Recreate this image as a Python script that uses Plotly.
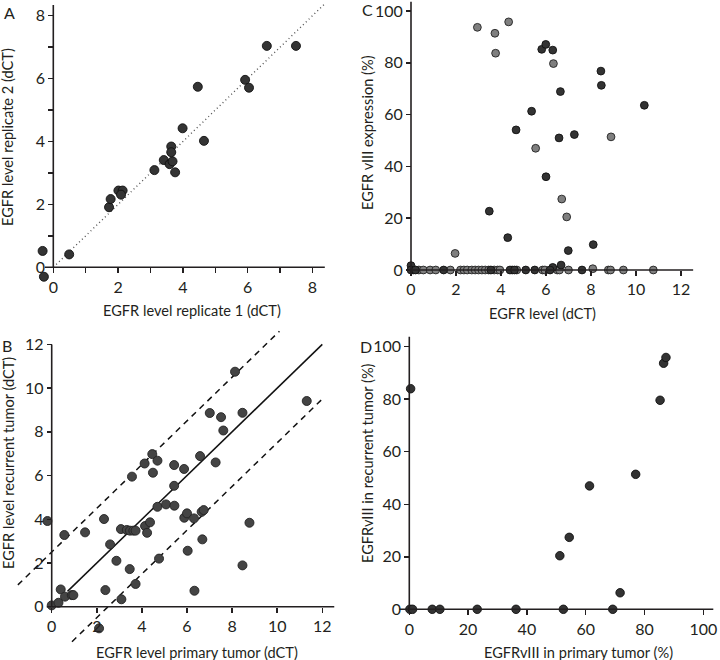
import plotly.graph_objects as go

W, H = 720, 660
FONT = "Lato"
INK = "#231f20"

# ---------------- Panel A: replicate agreement ----------------
a_rep1 = [-0.33, -0.29, 0.49, 1.72, 1.77, 2.01, 2.14, 2.09, 3.12, 3.41, 3.59,
          3.68, 3.64, 3.64, 3.76, 3.99, 4.65, 4.46, 5.92, 6.04, 6.59, 7.49]
a_rep2 = [0.52, -0.30, 0.41, 1.91, 2.17, 2.44, 2.44, 2.31, 3.09, 3.41, 3.28,
          3.37, 3.84, 3.66, 3.02, 4.42, 4.02, 5.74, 5.96, 5.71, 7.04, 7.04]
a_identity = [0, 8.4]

# ---------------- Panel B: primary vs recurrent ----------------
b_primary = [-0.19, 0.00, 0.30, 0.40, 0.59, 0.89, 0.96, 0.56, 1.48, 2.32, 2.38,
             2.59, 2.87, 3.07, 3.09, 3.33, 3.47, 3.62, 3.72, 3.46, 3.56, 3.72,
             4.14, 4.23, 4.36, 4.12, 4.46, 4.49, 4.69, 4.69, 4.76, 5.07, 5.43,
             5.43, 5.44, 5.87, 5.88, 6.00, 6.03, 6.31, 6.33, 6.58, 6.68, 6.65,
             6.74, 7.27, 7.01, 7.51, 7.61, 8.13, 8.46, 11.31, 8.77, 8.46, 2.10]
b_recurrent = [3.92, 0.06, 0.18, 0.79, 0.46, 0.53, 0.53, 3.28, 3.40, 4.01, 0.76,
               2.85, 2.10, 3.55, 0.34, 3.51, 3.48, 3.48, 3.48, 1.72, 5.95, 1.04,
               3.69, 3.38, 3.86, 6.55, 6.98, 6.13, 6.68, 4.57, 2.20, 4.68, 5.53,
               6.48, 4.62, 6.30, 4.07, 4.27, 2.56, 4.04, 0.73, 6.89, 3.08, 4.34,
               4.42, 6.60, 8.86, 8.67, 8.06, 10.75, 8.87, 9.41, 3.84, 1.89, -0.99]
b_identity = [0.7, 12.0]
b_upper_x = [-1.5, 10.1]
b_upper_y = [1.0, 12.6]
b_lower_x = [0.9, 12.0]
b_lower_y = [-1.6, 9.5]

# ---------------- Panel C: EGFR level vs vIII expression ----------------
c_dark_x = [5.81, 5.99, 5.36, 4.67, 6.00, 3.48, 4.30, 0.00, 6.30, 6.64, 6.58,
            7.26, 8.44, 8.46, 10.37, 6.99, 8.10, 6.67, 6.30,
            0.00, 0.20, 1.45, 3.55, 4.40, 4.60, 5.10, 5.50, 6.18, 7.60]
c_dark_y = [85.2, 87.1, 61.3, 54.1, 36.0, 22.7, 12.5, 1.7, 84.9, 68.9, 51.0,
            52.3, 76.8, 71.3, 63.6, 7.5, 9.8, 1.9, 1.0,
            0, 0, 0, 0, 0, 0, 0, 0, 0, 0]
c_light_x = [2.95, 3.73, 3.76, 4.34, 5.54, 1.96, 6.33, 8.89, 6.70, 6.92, 8.08,
             0.10, 0.35, 0.55, 0.85, 1.10, 1.75, 2.20, 2.35, 2.50, 2.70, 2.85,
             3.00, 3.15, 3.30, 3.45, 3.70, 3.85, 3.95, 4.50, 4.70, 5.85, 5.95,
             6.50, 6.60, 7.00, 8.77, 8.87, 9.44, 10.77]
c_light_y = [93.7, 91.4, 83.7, 95.8, 47.0, 6.4, 79.7, 51.4, 27.4, 20.5, 0.5,
             0, 0, 0, 0, 0, 0, 0, 0, 0, 0, 0,
             0, 0, 0, 0, 0, 0, 0, 0, 0, 0, 0,
             0, 0, 0, 0, 0, 0, 0]

# ---------------- Panel D: vIII primary vs recurrent ----------------
d_primary = [0.45, 0.2, 1.1, 7.8, 10.4, 23.1, 36.3, 52.4, 69.2, 71.7, 51.2,
             54.4, 61.3, 77.0, 85.3, 86.5, 87.3]
d_recurrent = [84.0, 0, 0, 0, 0, 0, 0, 0, 0, 6.3, 20.4,
               27.4, 47.0, 51.4, 79.6, 93.7, 95.9]

fig = go.Figure()


def marker(fill, edge="#111111", size=8.5):
    return dict(size=size, color=fill, line=dict(color=edge, width=0.9))


# panel geometry (pixel origin, pixels per unit, ranges, axis line extents)
panels = {
    "A": dict(n=1, ox=53.3, sx=32.4, oy=267.3, sy=31.45,
              xr=[-0.6, 8.5], yr=[-0.6, 8.45], xl=[-0.26, 8.38], yl=[0, 8.34],
              dt=2, minor=1),
    "C": dict(n=2, ox=411.0, sx=22.5, oy=270.0, sy=2.59,
              xr=[-0.5, 12.6], yr=[-3, 104], xl=[-0.19, 12.54], yl=[0, 103.6],
              dt=(2, 20), minor=None),
    "B": dict(n=3, ox=51.7, sx=22.55, oy=606.7, sy=21.86,
              xr=[-1.7, 12.6], yr=[-1.8, 12.8], xl=[-0.22, 12.53], yl=[0, 12],
              dt=2, minor=None),
    "D": dict(n=4, ox=409.3, sx=2.94, oy=609.3, sy=2.626,
              xr=[-5, 105], yr=[-4, 105], xl=[-3.4, 103.4], yl=[0, 103.8],
              dt=20, minor=None),
}

layout_axes = {}
shapes = []
for key, p in panels.items():
    n = p["n"]
    xa = "xaxis" if n == 1 else f"xaxis{n}"
    ya = "yaxis" if n == 1 else f"yaxis{n}"
    xref = "x" if n == 1 else f"x{n}"
    yref = "y" if n == 1 else f"y{n}"
    xd = [(p["ox"] + p["xr"][0] * p["sx"]) / W, (p["ox"] + p["xr"][1] * p["sx"]) / W]
    yd = [1 - (p["oy"] - p["yr"][0] * p["sy"]) / H, 1 - (p["oy"] - p["yr"][1] * p["sy"]) / H]
    dtx, dty = (p["dt"] if isinstance(p["dt"], tuple) else (p["dt"], p["dt"]))
    common = dict(showgrid=False, zeroline=False, showline=False, ticks="outside",
                  ticklen=5, tickwidth=1.5, tickcolor=INK, anchor="free",
                  tickfont=dict(family=FONT, size=16, color=INK), fixedrange=True)
    xaxis = dict(common, domain=xd, range=p["xr"], position=1 - p["oy"] / H)
    yaxis = dict(common, domain=yd, range=p["yr"], position=p["ox"] / W)
    xaxis["tickmode"] = "array"
    xaxis["tickvals"] = [v for v in range(0, 200, dtx) if p["xl"][0] - 1e-9 <= v <= p["xl"][1]]
    yaxis["tickmode"] = "array"
    yaxis["tickvals"] = [v for v in range(0, 200, dty) if p["yl"][0] - 1e-9 <= v <= p["yl"][1]]
    if p["minor"]:
        mx = [v for v in range(1, 20, 2) if v <= p["xl"][1]]
        my = [v for v in range(1, 20, 2) if v <= p["yl"][1]]
        xaxis["minor"] = dict(tickvals=mx, ticks="outside", ticklen=5, tickwidth=1.5, tickcolor=INK)
        yaxis["minor"] = dict(tickvals=my, ticks="outside", ticklen=5, tickwidth=1.5, tickcolor=INK)
    layout_axes[xa] = xaxis
    layout_axes[ya] = yaxis
    shapes.append(dict(type="line", xref=xref, yref=yref, x0=p["xl"][0], x1=p["xl"][1],
                       y0=0, y1=0, line=dict(color=INK, width=1.6)))
    shapes.append(dict(type="line", xref=xref, yref=yref, x0=0, x1=0,
                       y0=p["yl"][0], y1=p["yl"][1], line=dict(color=INK, width=1.6)))

# Panel A traces
fig.add_trace(go.Scatter(x=a_identity, y=a_identity, mode="lines", xaxis="x", yaxis="y",
                         line=dict(color="#555555", width=1.4, dash="1px,3px"),
                         showlegend=False, hoverinfo="skip"))
fig.add_trace(go.Scatter(x=a_rep1, y=a_rep2, mode="markers", xaxis="x", yaxis="y",
                         marker=marker("#343434", "#111111", 9), cliponaxis=False, showlegend=False))

# Panel C traces
fig.add_trace(go.Scatter(x=c_light_x, y=c_light_y, mode="markers", xaxis="x2", yaxis="y2",
                         marker=marker("#7f7f7f", "#222222", 7.8), cliponaxis=False, showlegend=False))
fig.add_trace(go.Scatter(x=c_dark_x, y=c_dark_y, mode="markers", xaxis="x2", yaxis="y2",
                         marker=marker("#333333", "#111111", 7.8), cliponaxis=False, showlegend=False))

# Panel B traces
fig.add_trace(go.Scatter(x=b_identity, y=b_identity, mode="lines", xaxis="x3", yaxis="y3",
                         line=dict(color="#111111", width=1.5), showlegend=False, hoverinfo="skip"))
fig.add_trace(go.Scatter(x=b_upper_x, y=b_upper_y, mode="lines", xaxis="x3", yaxis="y3",
                         line=dict(color="#111111", width=1.5, dash="6px,5px"),
                         showlegend=False, hoverinfo="skip"))
fig.add_trace(go.Scatter(x=b_lower_x, y=b_lower_y, mode="lines", xaxis="x3", yaxis="y3",
                         line=dict(color="#111111", width=1.5, dash="6px,5px"),
                         showlegend=False, hoverinfo="skip"))
fig.add_trace(go.Scatter(x=b_primary, y=b_recurrent, mode="markers", xaxis="x3", yaxis="y3",
                         marker=marker("#444444", "#222222", 9), cliponaxis=False, showlegend=False))

# Panel D traces
fig.add_trace(go.Scatter(x=d_primary, y=d_recurrent, mode="markers", xaxis="x4", yaxis="y4",
                         marker=marker("#333333", "#111111", 8.5), cliponaxis=False, showlegend=False))


def ann(text, px, py, size=14.6, angle=0):
    return dict(text=text, x=px / W, y=1 - py / H, xref="paper", yref="paper",
                showarrow=False, textangle=angle, xanchor="center", yanchor="middle",
                font=dict(family=FONT, size=size, color=INK))


annotations = [
    ann("A", 9, 12, 16), ann("B", 7, 345, 16), ann("C", 367, 10, 16), ann("D", 366, 346, 16),
    ann("EGFR level replicate 1 (dCT)", 192, 310),
    ann("EGFR level replicate 2 (dCT)", 8, 137, angle=-90),
    ann("EGFR level (dCT)", 542, 313),
    ann("EGFR vIII expression (%)", 367, 133, angle=-90),
    ann("EGFR level primary tumor (dCT)", 197, 652),
    ann("EGFR level recurrent tumor (dCT)", 8, 463, angle=-90),
    ann("EGFRvIII in primary tumor (%)", 578, 652),
    ann("EGFRvIII in recurrent tumor (%)", 367, 463, angle=-90),
]

fig.update_layout(width=W, height=H, margin=dict(l=0, r=0, t=0, b=0),
                  paper_bgcolor="white", plot_bgcolor="white",
                  shapes=shapes, annotations=annotations, showlegend=False,
                  hovermode=False, **layout_axes)

fig.write_html("out.html", config={"displayModeBar": False, "staticPlot": True},
               post_script="document.body.style.margin='0';document.body.style.padding='0';")
